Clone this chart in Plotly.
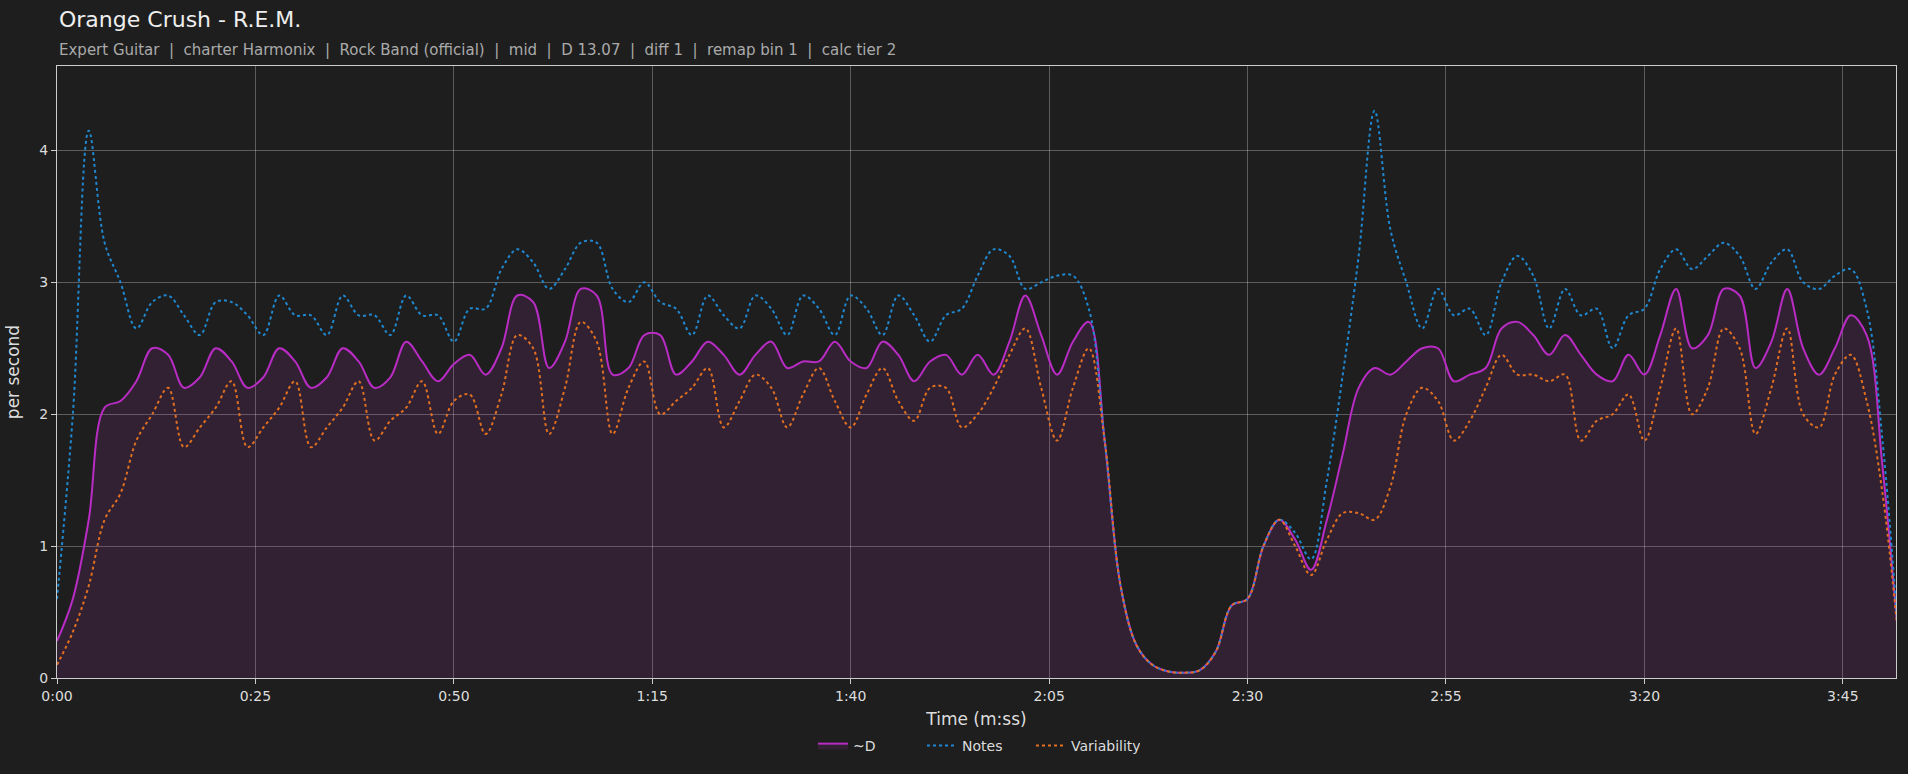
import plotly.graph_objects as go

times = list(range(0, 233, 2))
d_vals = [0.28,0.6,1.2,2.05,2.1,2.25,2.5,2.45,2.2,2.28,2.5,2.4,2.2,2.28,2.5,2.4,2.2,2.28,2.5,2.4,
          2.2,2.28,2.55,2.4,2.25,2.38,2.45,2.3,2.5,2.9,2.85,2.35,2.55,2.95,2.9,2.3,2.35,2.6,2.6,2.3,
          2.4,2.55,2.45,2.3,2.45,2.55,2.35,2.4,2.4,2.55,2.4,2.35,2.55,2.45,2.25,2.4,2.45,2.3,2.45,2.3,
          2.55,2.9,2.6,2.3,2.55,2.7,1.8,0.7,0.25,0.1,0.05,0.04,0.06,0.2,0.55,0.6,1.0,1.2,1.05,0.82,
          1.2,1.7,2.2,2.35,2.3,2.4,2.5,2.5,2.25,2.3,2.35,2.65,2.7,2.6,2.45,2.6,2.45,2.3,2.25,2.45,
          2.3,2.6,2.95,2.5,2.6,2.95,2.9,2.35,2.55,2.95,2.5,2.3,2.5,2.75,2.6,1.6,0.3]
notes_vals = [0.6,2.0,4.15,3.3,3.0,2.65,2.85,2.9,2.75,2.6,2.85,2.85,2.75,2.6,2.9,2.75,2.75,2.6,2.9,2.75,
              2.75,2.6,2.9,2.75,2.75,2.55,2.8,2.8,3.1,3.25,3.15,2.95,3.1,3.3,3.3,2.95,2.85,3.0,2.85,2.8,
              2.6,2.9,2.75,2.65,2.9,2.8,2.6,2.9,2.8,2.6,2.9,2.8,2.6,2.9,2.75,2.55,2.75,2.8,3.05,3.25,
              3.2,2.95,3.0,3.05,3.05,2.8,1.8,0.7,0.25,0.1,0.05,0.04,0.06,0.2,0.55,0.6,1.0,1.2,1.1,0.9,
              1.5,2.3,3.2,4.3,3.4,3.0,2.65,2.95,2.75,2.8,2.6,3.0,3.2,3.05,2.65,2.95,2.75,2.8,2.5,2.75,
              2.8,3.1,3.25,3.1,3.2,3.3,3.2,2.95,3.15,3.25,3.0,2.95,3.05,3.1,2.8,1.8,0.3]
var_vals = [0.1,0.35,0.7,1.2,1.4,1.8,2.0,2.2,1.75,1.9,2.05,2.25,1.75,1.9,2.05,2.25,1.75,1.9,2.05,2.25,
            1.8,1.95,2.05,2.25,1.85,2.1,2.15,1.85,2.15,2.6,2.5,1.85,2.2,2.7,2.55,1.85,2.2,2.4,2.0,2.1,
            2.2,2.35,1.9,2.1,2.3,2.2,1.9,2.15,2.35,2.1,1.9,2.15,2.35,2.1,1.95,2.2,2.2,1.9,2.0,2.2,
            2.45,2.65,2.2,1.8,2.2,2.5,1.8,0.7,0.25,0.1,0.05,0.04,0.06,0.2,0.55,0.6,1.0,1.2,1.0,0.78,
            1.05,1.25,1.25,1.2,1.45,2.0,2.2,2.1,1.8,1.95,2.2,2.45,2.3,2.3,2.25,2.3,1.8,1.95,2.0,2.15,
            1.8,2.2,2.65,2.0,2.2,2.65,2.5,1.85,2.2,2.65,2.0,1.9,2.3,2.45,2.1,1.4,0.3]
assert len(times) == len(d_vals) == len(notes_vals) == len(var_vals)

tick_vals = [0, 25, 50, 75, 100, 125, 150, 175, 200, 225]
tick_text = ["0:00", "0:25", "0:50", "1:15", "1:40", "2:05", "2:30", "2:55", "3:20", "3:45"]

fig = go.Figure()
fig.add_trace(go.Scatter(x=times, y=d_vals, name="~D", mode="lines", line=dict(color="#b82cc4", width=2, shape="spline"),
                         fill="tozeroy", fillcolor="rgba(184,44,196,0.13)"))
fig.add_trace(go.Scatter(x=times, y=notes_vals, name="Notes", mode="lines", line=dict(color="#1f88d0", width=2, dash="dot", shape="spline")))
fig.add_trace(go.Scatter(x=times, y=var_vals, name="Variability", mode="lines", line=dict(color="#e07020", width=2, dash="dot", shape="spline")))

fig.add_annotation(text="Orange Crush - R.E.M.", xref="paper", yref="paper", x=0, y=1, xanchor="left", yanchor="bottom",
                   yshift=32, showarrow=False, font=dict(size=22, color="#eeeeee"))
fig.add_annotation(text="Expert Guitar  |  charter Harmonix  |  Rock Band (official)  |  mid  |  D 13.07  |  diff 1  |  remap bin 1  |  calc tier 2",
                   xref="paper", yref="paper", x=0, y=1, xanchor="left", yanchor="bottom", yshift=5, showarrow=False,
                   font=dict(size=15, color="#aaaaaa"))

fig.update_layout(
    width=1908, height=774, paper_bgcolor="#1e1e1e", plot_bgcolor="#1e1e1e",
    font=dict(family="DejaVu Sans", color="#dddddd", size=14),
    margin=dict(l=57, r=12, t=66, b=96, autoexpand=False),
    xaxis=dict(range=[0, 231.7], tickvals=tick_vals, ticktext=tick_text, title=dict(text="Time (m:ss)", standoff=10),
               gridcolor="rgba(255,255,255,0.28)", showline=True, linecolor="#cccccc", mirror=True, ticks="outside", tickcolor="#cccccc", zeroline=False),
    yaxis=dict(range=[0, 4.64], dtick=1, title=dict(text="per second"), gridcolor="rgba(255,255,255,0.28)",
               showline=True, linecolor="#cccccc", mirror=True, ticks="outside", tickcolor="#cccccc", zeroline=False),
    legend=dict(orientation="h", x=0.5, xanchor="center", y=-0.085, yanchor="top", font=dict(size=14),
                entrywidth=64, entrywidthmode="pixels"),
)
fig.write_html("out.html", config={"displayModeBar": False},
               post_script="document.body.style.margin='0';document.body.style.background='#1e1e1e';")
